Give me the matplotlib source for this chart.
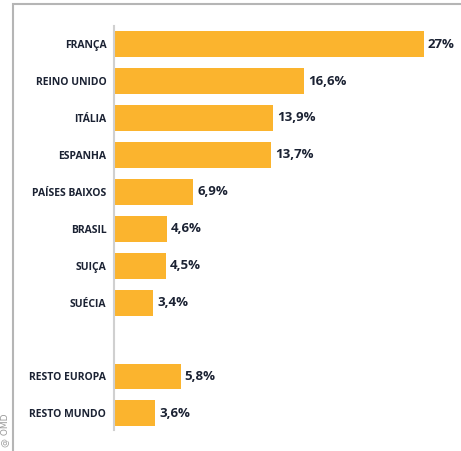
import matplotlib.pyplot as plt
from matplotlib.patches import Rectangle

# Dados
paises = ['FRANÇA', 'REINO UNIDO', 'ITÁLIA', 'ESPANHA', 'PAÍSES BAIXOS',
          'BRASIL', 'SUIÇA', 'SUÉCIA', '', 'RESTO EUROPA', 'RESTO MUNDO']
valores = [27, 16.6, 13.9, 13.7, 6.9, 4.6, 4.5, 3.4, None, 5.8, 3.6]
rotulos = ['27%', '16,6%', '13,9%', '13,7%', '6,9%', '4,6%', '4,5%', '3,4%', '',
           '5,8%', '3,6%']

cor_barra = '#fbb42e'
cor_texto = '#1b2233'

fig = plt.figure(figsize=(4.61, 4.51), dpi=100)
ax = fig.add_axes([114/461, 1 - 430/451, 344/461, 404/451])

for i, (v, r) in enumerate(zip(valores, rotulos)):
    if v is None:
        continue
    ax.barh(i, v, height=0.7, color=cor_barra)
    ax.text(v + 0.35, i, r, va='center', ha='left', fontsize=9.5,
            fontweight='bold', color=cor_texto, family='Open Sans')

ax.set_yticks(range(len(paises)))
ax.set_yticklabels(paises, fontsize=7.5, fontweight='bold', color=cor_texto,
                   family='Open Sans')
ax.tick_params(axis='y', length=0, pad=5.5)
ax.set_xticks([])
ax.set_xlim(0, 30)
ax.set_ylim(10.45, -0.49)

for s in ['top', 'right', 'bottom']:
    ax.spines[s].set_visible(False)
ax.spines['left'].set_color('#d0d0d0')
ax.spines['left'].set_linewidth(1.5)

# moldura
fig.patches.append(Rectangle((13/461, -0.01), 1.0, 1 - 4/451 + 0.01,
                             transform=fig.transFigure, fill=False,
                             edgecolor='#b5b5b5', linewidth=1.5))
fig.text(5/461, 1 - 430/451, '@ OMD', rotation=90, ha='center', va='center',
         fontsize=6.5, color='#9a9a9a')

fig.savefig('out.png', dpi=100)
